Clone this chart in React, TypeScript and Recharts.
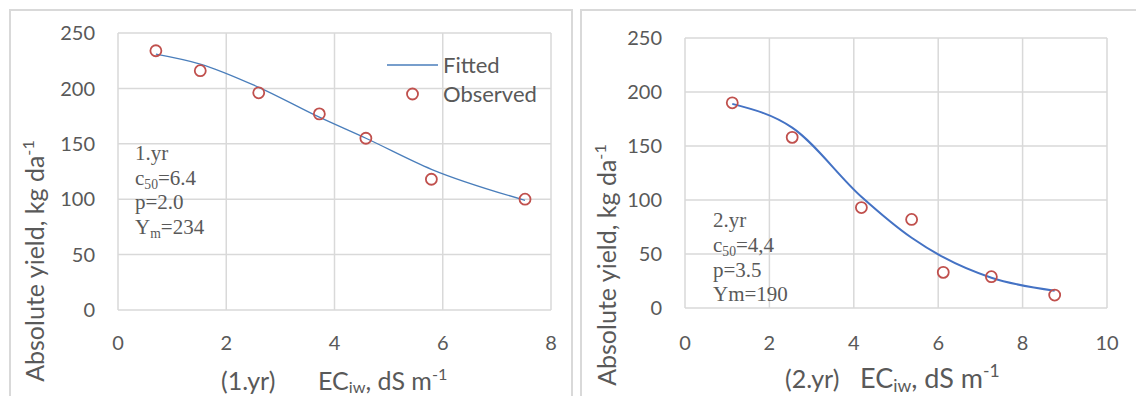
import React from 'react';
import { ComposedChart, Line, Scatter, XAxis, YAxis, CartesianGrid, Legend } from 'recharts';

// EC of irrigation water (dS m-1) and yields (kg da-1)
const ecYear1 = [0.7, 1.52, 2.6, 3.72, 4.58, 5.79, 7.52];
const observedYear1 = [234, 216, 196, 177, 155, 118, 100];
const fittedYear1 = [231, 222, 201, 174, 155, 127, 99];

const ecYear2 = [1.12, 2.54, 4.18, 5.37, 6.12, 7.26, 8.76];
const observedYear2 = [190, 158, 93, 82, 33, 29, 12];
const fittedYear2 = [189, 167, 103, 65, 47, 28, 16];

const xTicksYear1 = [0, 2, 4, 6, 8];
const xTicksYear2 = [0, 2, 4, 6, 8, 10];
const yTicks = [0, 50, 100, 150, 200, 250];

const GRID = '#d9d9d9';
const TEXT = '#595959';
const RED = '#c0504d';
const SANS = 'Lato, "Open Sans", sans-serif';
const SERIF = '"Liberation Serif", "DejaVu Serif", serif';

const rows = (ec: number[], obs: number[], fit: number[]) =>
  ec.map((x, i) => ({ x, obs: obs[i], fit: fit[i] }));

const tickStyle = { fontSize: 20, fill: TEXT, fontFamily: SANS };

const Ring = (props: any) => {
  const { cx, cy } = props;
  if (cx == null || cy == null) return null;
  return <circle cx={cx} cy={cy} r={5.5} fill="none" stroke={RED} strokeWidth={1.8} />;
};

const LegendBox = () => (
  <div style={{ fontFamily: SANS, fontSize: 22, color: TEXT, lineHeight: '29px' }}>
    <div style={{ display: 'flex', alignItems: 'center', height: 29 }}>
      <svg width={58} height={29}>
        <line x1={2} y1={15} x2={53} y2={15} stroke="#4a7ebb" strokeWidth={1.3} />
      </svg>
      <span>Fitted</span>
    </div>
    <div style={{ display: 'flex', alignItems: 'center', height: 29 }}>
      <svg width={58} height={29}>
        <circle cx={27.5} cy={15} r={5.5} fill="none" stroke={RED} strokeWidth={1.8} />
      </svg>
      <span>Observed</span>
    </div>
  </div>
);

const sub = { fontSize: '0.65em', verticalAlign: '-0.3em', lineHeight: 0 };
const subTitle = { fontSize: '0.65em', verticalAlign: '-0.2em', lineHeight: 0 };
const sup = { fontSize: '0.65em', verticalAlign: '0.6em', lineHeight: 0 };

const Note = ({ left, top, children }: { left: number; top: number; children: React.ReactNode }) => (
  <div
    style={{
      position: 'absolute', left, top, fontFamily: SERIF, fontSize: 21, color: TEXT,
      lineHeight: '24px', whiteSpace: 'nowrap',
    }}
  >
    {children}
  </div>
);

const titleX = {
  position: 'absolute' as const, fontFamily: SANS, fontSize: 25, color: TEXT,
  lineHeight: '26px', whiteSpace: 'nowrap' as const,
};

const AxisTitleX = ({ left, ecLeft, top, year, size = 25 }: { left: number; ecLeft: number; top: number; year: string; size?: number }) => (
  <>
    <div style={{ ...titleX, left, top }}>({year})</div>
    <div style={{ ...titleX, left: ecLeft, top, fontSize: size }}>
      EC<span style={subTitle}>iw</span>, dS m<span style={sup}>-1</span>
    </div>
  </>
);

const AxisTitleY = ({ cx, cy }: { cx: number; cy: number }) => (
  <div
    style={{
      position: 'absolute', left: cx - 160, top: cy - 15, width: 320, height: 30,
      textAlign: 'center', transform: 'rotate(-90deg)', fontFamily: SANS, fontSize: 25,
      color: TEXT, lineHeight: '30px', whiteSpace: 'nowrap',
    }}
  >
    Absolute yield, kg da<span style={sup}>-1</span>
  </div>
);

const App: React.FC = () => {
  const data1 = rows(ecYear1, observedYear1, fittedYear1);
  const data2 = rows(ecYear2, observedYear2, fittedYear2);

  return (
    <div style={{ position: 'absolute', left: 0, top: 0, width: 1136, height: 396, overflow: 'hidden', background: '#fff' }}>
      {/* panel frames */}
      <div style={{ position: 'absolute', left: 9, top: 9, width: 564, height: 420, border: `2px solid ${GRID}`, boxSizing: 'border-box' }} />
      <div style={{ position: 'absolute', left: 580, top: 9, width: 600, height: 420, border: `2px solid ${GRID}`, boxSizing: 'border-box' }} />

      <div style={{ position: 'absolute', left: 0, top: 0 }}>
        <ComposedChart width={580} height={396} data={data1} margin={{ top: 33, right: 29, bottom: 26, left: 58 }}>
          <CartesianGrid stroke={GRID} strokeWidth={1.5} />
          <XAxis
            dataKey="x" type="number" domain={[0, 8]} ticks={xTicksYear1} height={60}
            axisLine={false} tickLine={false} tickSize={0} tickMargin={26} tick={tickStyle}
          />
          <YAxis
            type="number" domain={[0, 250]} ticks={yTicks} width={60}
            axisLine={false} tickLine={false} tickSize={0} tickMargin={23} tick={tickStyle}
          />
          <Line dataKey="fit" type="monotone" stroke="#4a7ebb" strokeWidth={1.3} dot={false} activeDot={false} isAnimationActive={false} />
          <Scatter dataKey="obs" shape={Ring} isAnimationActive={false} />
          {/* middle/center alignment keeps the legend from shrinking the plot area */}
          <Legend
            content={LegendBox} layout="horizontal" verticalAlign="middle" align="center"
            wrapperStyle={{ left: 385, top: 50, width: 180 }}
          />
        </ComposedChart>
      </div>

      <div style={{ position: 'absolute', left: 580, top: 0 }}>
        <ComposedChart width={556} height={396} data={data2} margin={{ top: 38, right: 29, bottom: 28, left: 45 }}>
          <CartesianGrid stroke={GRID} strokeWidth={1.5} />
          <XAxis
            dataKey="x" type="number" domain={[0, 10]} ticks={xTicksYear2} height={60}
            axisLine={false} tickLine={false} tickSize={0} tickMargin={28} tick={tickStyle}
          />
          <YAxis
            type="number" domain={[0, 250]} ticks={yTicks} width={60}
            axisLine={false} tickLine={false} tickSize={0} tickMargin={23} tick={tickStyle}
          />
          <Line dataKey="fit" type="monotone" stroke="#4472c4" strokeWidth={2} dot={false} activeDot={false} isAnimationActive={false} />
          <Scatter dataKey="obs" shape={Ring} isAnimationActive={false} />
        </ComposedChart>
      </div>

      {/* fit parameters */}
      <Note left={135} top={141}>1.yr</Note>
      <Note left={135} top={166}>c<span style={sub}>50</span>=6.4</Note>
      <Note left={135} top={190}>p=2.0</Note>
      <Note left={135} top={215}>Y<span style={sub}>m</span>=234</Note>

      <Note left={713} top={208}>2.yr</Note>
      <Note left={713} top={233}>c<span style={sub}>50</span>=4,4</Note>
      <Note left={713} top={258}>p=3.5</Note>
      <Note left={713} top={282}>Ym=190</Note>

      <AxisTitleY cx={34} cy={261} />
      <AxisTitleY cx={606} cy={265} />
      <AxisTitleX left={221} ecLeft={318} top={367} year="1.yr" />
      <AxisTitleX left={785} ecLeft={860} top={365} year="2.yr" size={27} />
    </div>
  );
};

export default App;
